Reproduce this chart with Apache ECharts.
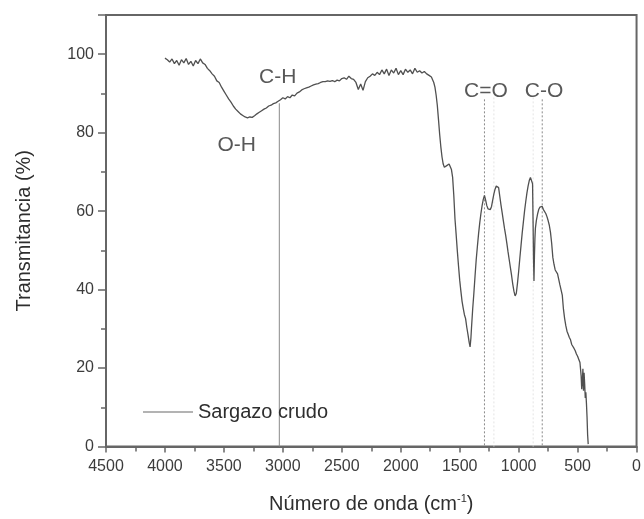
<!DOCTYPE html>
<html>
<head>
<meta charset="utf-8">
<script src="https://cdn.jsdelivr.net/npm/echarts@6/dist/echarts.min.js"></script>
<style>
html,body{margin:0;padding:0;background:#fff;}
#chart{width:644px;height:519px;}
</style>
</head>
<body>
<div id="chart"></div>
<script>
// Wavenumber (cm-1) and transmittance (%)
var wavenumbers = [
4000,3980,3960,3940,3920,3900,3880,3860,3840,3820,3800,3780,3760,3740,3720,3700,3680,3660,3640,3620,
3600,3580,3560,3540,3520,3500,3480,3460,3440,3420,3400,3380,3360,3340,3320,3300,3280,3260,3240,3220,
3200,3180,3160,3140,3120,3100,3080,3060,3040,3020,3000,2980,2960,2940,2920,2900,2880,2860,2840,2820,
2800,2780,2760,2740,2720,2700,2680,2660,2640,2620,2600,2580,2560,2540,2520,2500,2480,2460,2440,2420,
2400,2380,2360,2340,2320,2300,2280,2260,2240,2220,2200,2180,2160,2140,2120,2100,2080,2060,2040,2020,
2000,1980,1960,1940,1920,1900,1880,1860,1840,1820,1800,1780,1760,1740,1720,1710,1700,1690,1680,1670,
1660,1650,1640,1630,1620,1610,1600,1590,1580,1570,1560,1550,1540,1530,1520,1510,1500,1490,1480,1470,
1460,1450,1440,1430,1420,1412,1405,1400,1390,1380,1370,1360,1350,1340,1330,1320,1310,1300,1290,1280,
1270,1260,1250,1240,1230,1220,1210,1200,1190,1180,1170,1160,1150,1140,1130,1120,1110,1100,1090,1080,
1070,1060,1050,1040,1030,1020,1010,1000,990,980,970,960,950,940,930,920,910,900,890,882,
878,874,870,866,862,858,850,840,830,820,810,800,790,780,770,760,750,740,730,720,
710,700,690,680,670,660,650,640,630,620,610,600,590,580,570,560,550,540,530,520,
510,500,490,480,470,465,460,455,450,445,440,435,430,425,420,415,410
];
var transmittance = [
99.0,98.6,98.0,98.8,97.6,98.4,97.2,98.6,97.8,98.9,97.4,98.2,97.0,98.4,97.6,98.8,97.8,97.4,96.4,95.8,
95.0,94.4,93.2,92.8,91.6,90.6,89.6,88.6,87.8,86.8,86.0,85.4,84.8,84.4,84.0,83.8,84.0,83.9,84.3,84.8,
85.2,85.6,86.0,86.3,86.8,87.0,87.4,87.6,88.0,88.4,88.9,88.6,89.2,88.9,89.6,89.4,90.1,90.4,90.9,91.2,
91.4,91.6,91.9,92.2,92.4,92.5,92.8,93.0,93.0,93.2,93.1,93.3,93.0,93.4,93.2,93.8,94.0,93.6,94.4,93.8,
93.6,92.8,91.0,92.4,90.8,93.0,94.0,94.4,95.0,94.6,95.4,94.8,96.0,95.0,96.2,94.6,96.0,95.2,96.4,94.8,
95.8,94.8,96.2,95.4,96.0,95.0,96.4,95.4,95.8,95.2,95.6,95.0,94.6,94.2,92.8,91.6,89.6,87.0,83.4,79.6,
76.4,73.8,72.0,71.2,71.0,71.6,71.2,72.0,72.2,70.6,68.6,64.0,58.0,54.0,49.8,46.0,42.4,39.6,37.0,35.2,
33.6,32.6,30.4,28.6,26.6,25.4,27.6,30.2,35.0,39.0,43.4,47.6,51.0,54.2,57.0,59.4,61.4,63.0,64.0,62.8,
61.4,60.6,60.2,60.4,61.2,62.8,64.4,65.6,66.4,66.8,66.0,63.8,61.6,59.6,57.6,55.6,53.8,51.8,49.6,47.6,
45.6,43.6,41.4,39.6,38.4,39.0,41.6,44.6,48.0,51.2,54.4,57.2,60.0,62.4,64.6,66.4,67.8,68.6,69.0,67.0,
58.0,48.0,42.2,48.6,53.0,55.6,57.6,59.2,60.4,61.0,60.8,61.2,60.4,60.0,59.4,58.6,57.6,56.4,54.6,51.8,
48.2,46.4,45.0,44.6,44.0,42.6,41.2,40.8,38.6,35.0,32.6,30.8,29.4,28.6,27.8,27.2,26.0,25.6,25.0,24.4,
23.6,23.0,22.8,21.4,18.0,14.6,16.6,19.8,14.2,18.8,16.0,12.4,13.8,11.0,7.6,3.0,0.6
];
var seriesName = 'Sargazo crudo';

// Band annotations
var bandLabels = ['C-H', 'O-H', 'C=O', 'C-O'];
var bandLabelX = [3044, 3391, 1278, 785];
var bandLabelY = [94.1, 76.8, 90.7, 90.7];

// Marker lines: wavenumber, top value
var solidLineX = [3030];
var solidLineTop = [87.5];
var dottedLineX = [1290, 800];
var dottedLineTop = [88.5, 88.5];
var faintLineX = [1210, 877];
var faintLineTop = [89, 89];

var xTicks = [4500, 4000, 3500, 3000, 2500, 2000, 1500, 1000, 500, 0];
var yTicks = [0, 20, 40, 60, 80, 100];

var spectrum = wavenumbers.map(function (w, i) { return [w, transmittance[i]]; });

function vline(xs, tops, style, name) {
  return xs.map(function (x, i) {
    return {
      type: 'line', name: name + i, silent: true, symbol: 'none', z: 1,
      data: [[x, tops[i]], [x, 0]],
      lineStyle: style
    };
  });
}

var series = [];
series = series.concat(vline(faintLineX, faintLineTop, {color: '#e4e4e4', width: 1, type: [2, 2]}, 'faint'));
series = series.concat(vline(solidLineX, solidLineTop, {color: '#8a8a8a', width: 1, type: 'solid'}, 'solid'));
series = series.concat(vline(dottedLineX, dottedLineTop, {color: '#8a8a8a', width: 1, type: [2, 2]}, 'dot'));
series.push({
  type: 'line', name: seriesName, data: spectrum, symbol: 'none', z: 3,
  lineStyle: {color: '#505050', width: 1.3},
  itemStyle: {color: '#9a9a9a'}
});
series.push({
  type: 'scatter', name: 'labels', silent: true, symbolSize: 0, z: 4,
  data: bandLabels.map(function (t, i) { return {name: t, value: [bandLabelX[i], bandLabelY[i]]}; }),
  label: {
    show: true, position: 'inside', formatter: '{b}',
    fontFamily: 'Liberation Sans, Arial, sans-serif', fontSize: 21, color: '#2e2e2e'
  }
});

var chart = echarts.init(document.getElementById('chart'), null, {renderer: 'canvas'});
chart.setOption({
  animation: false,
  backgroundColor: '#fff',
  grid: {left: 106, right: 6, top: 15, bottom: 71, show: true, borderColor: '#666', borderWidth: 2, backgroundColor: 'transparent'},
  legend: {
    data: [{name: seriesName, icon: 'rect'}],
    left: 138, top: 397, itemWidth: 50, itemHeight: 1.5, itemGap: 5,
    itemStyle: {color: '#9a9a9a'},
    textStyle: {fontFamily: 'Liberation Sans, Arial, sans-serif', fontSize: 20, color: '#2e2e2e', padding: [0, 0, 0, 0]}
  },
  xAxis: {
    type: 'value', min: 0, max: 4500, interval: 500, inverse: true,
    name: '{a|Número de onda (cm}{s|-1}{a|)}', nameLocation: 'middle', nameGap: 47,
    nameTextStyle: {
      rich: {
        a: {fontFamily: 'Liberation Sans, Arial, sans-serif', fontSize: 20, color: '#2e2e2e'},
        s: {fontFamily: 'Liberation Sans, Arial, sans-serif', fontSize: 11, color: '#2e2e2e', verticalAlign: 'top', padding: [0, 0, 10, 0]}
      }
    },
    axisLine: {show: true, onZero: false, lineStyle: {color: '#666', width: 2}},
    axisTick: {show: true, inside: false, length: 6, lineStyle: {color: '#666', width: 1.5}},
    minorTick: {show: true, splitNumber: 2, length: 5, lineStyle: {color: '#666', width: 1.5}},
    splitLine: {show: false},
    axisLabel: {
      margin: 12, fontFamily: 'Liberation Sans, Arial, sans-serif', fontSize: 16, color: '#3c3c3c',
      formatter: function (v) { return xTicks.indexOf(v) >= 0 ? String(v) : ''; }
    }
  },
  yAxis: {
    type: 'value', min: 0, max: 110, interval: 20,
    name: 'Transmitancia (%)', nameLocation: 'middle', nameGap: 72, nameRotate: 90,
    nameTextStyle: {fontFamily: 'Liberation Sans, Arial, sans-serif', fontSize: 20, color: '#2e2e2e'},
    axisLine: {show: true, onZero: false, lineStyle: {color: '#666', width: 2}},
    axisTick: {show: true, inside: false, length: 8, lineStyle: {color: '#666', width: 1.5}},
    minorTick: {show: true, splitNumber: 2, length: 5, lineStyle: {color: '#666', width: 1.5}},
    splitLine: {show: false},
    axisLabel: {
      margin: 12, fontFamily: 'Liberation Sans, Arial, sans-serif', fontSize: 16, color: '#3c3c3c',
      showMaxLabel: false,
      formatter: function (v) { return yTicks.indexOf(v) >= 0 ? String(v) : ''; }
    }
  },
  series: series
});
</script>
</body>
</html>
